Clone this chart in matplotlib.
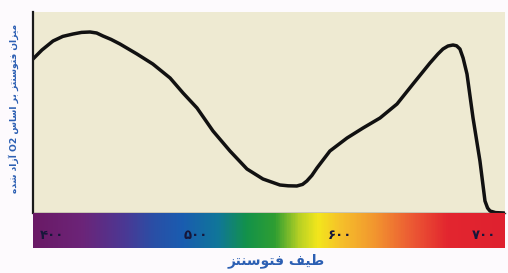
import re
import numpy as np
import matplotlib
matplotlib.use("Agg")
import matplotlib.pyplot as plt
from matplotlib.colors import LinearSegmentedColormap

# ---- data ----
wavelength = [386.8, 393.0, 400.7, 407.5, 414.6, 420.5, 426.4, 431.0, 435.4, 441.0,
              447.2, 459.0, 470.0, 482.0, 491.0, 500.7, 511.8, 523.6, 535.4, 546.5,
              558.3, 564.0, 570.0, 574.0, 577.0, 580.5, 584.0, 593.0, 604.9, 616.0,
              627.8, 639.6, 650.7, 662.5, 668.0, 671.5, 675.0, 678.5, 681.0, 683.3,
              685.5, 688.2, 692.4, 697.2, 700.7, 702.5, 704.2, 708.0, 714.0]
photosynthesis = [77.0, 81.5, 86.0, 88.3, 89.5, 90.3, 90.5, 90.0, 88.5, 86.8,
                  84.5, 79.5, 74.5, 67.5, 60.0, 52.5, 41.0, 31.0, 22.0, 17.0,
                  14.0, 13.6, 13.5, 14.3, 16.0, 18.8, 22.5, 31.0, 37.5, 42.5,
                  47.5, 54.5, 64.5, 75.0, 79.5, 82.0, 83.5, 84.0, 83.6, 82.0,
                  77.5, 69.5, 47.5, 26.0, 6.0, 2.5, 1.0, 0.2, 0.0]
tick_values = [400, 500, 600, 700]
tick_labels = ["۴۰۰", "۵۰۰", "۶۰۰", "۷۰۰"]
x_label = "طیف فتوسنتز"
y_label = "میزان فتوسنتز بر اساس O2 آزاد شده"

# spectrum strip colour stops (nm, colour)
spectrum_nm = [386.8, 420, 450, 470, 490, 515, 535, 555, 572, 585, 600, 625, 650, 675, 714.6]
spectrum_col = ["#6a1a66", "#6c2478", "#4b3894", "#2a4fa6", "#1a5cb0", "#10769a", "#13924a",
                "#2f9e32", "#b8d124", "#f3e61c", "#f6c22a", "#f2952f", "#ec5a34", "#e3262f", "#df2130"]

X_MIN, X_MAX = 386.8, 714.6

# ---- minimal Persian shaping (matplotlib has no bidi / joining) ----
FORMS = {  # isolated, final, initial, medial
    "ا": ("\uFE8D", "\uFE8E", None, None),
    "آ": ("\uFE81", "\uFE82", None, None),
    "ب": ("\uFE8F", "\uFE90", "\uFE91", "\uFE92"),
    "ت": ("\uFE95", "\uFE96", "\uFE97", "\uFE98"),
    "د": ("\uFEA9", "\uFEAA", None, None),
    "ر": ("\uFEAD", "\uFEAE", None, None),
    "ز": ("\uFEAF", "\uFEB0", None, None),
    "س": ("\uFEB1", "\uFEB2", "\uFEB3", "\uFEB4"),
    "ش": ("\uFEB5", "\uFEB6", "\uFEB7", "\uFEB8"),
    "ط": ("\uFEC1", "\uFEC2", "\uFEC3", "\uFEC4"),
    "ف": ("\uFED1", "\uFED2", "\uFED3", "\uFED4"),
    "م": ("\uFEE1", "\uFEE2", "\uFEE3", "\uFEE4"),
    "ن": ("\uFEE5", "\uFEE6", "\uFEE7", "\uFEE8"),
    "و": ("\uFEED", "\uFEEE", None, None),
    "ه": ("\uFEE9", "\uFEEA", "\uFEEB", "\uFEEC"),
    "ی": ("\uFBFC", "\uFBFD", "\uFBFE", "\uFBFF"),
}


def shape_fa(text: str) -> str:
    out = []
    for i, ch in enumerate(text):
        if ch not in FORMS:
            out.append(ch)
            continue
        prev = text[i - 1] if i > 0 else ""
        nxt = text[i + 1] if i + 1 < len(text) else ""
        j_prev = prev in FORMS and FORMS[prev][2] is not None
        j_next = FORMS[ch][2] is not None and nxt in FORMS
        iso, fin, ini, med = FORMS[ch]
        if j_prev and j_next:
            out.append(med)
        elif j_prev:
            out.append(fin)
        elif j_next:
            out.append(ini)
        else:
            out.append(iso)
    visual = "".join(out)[::-1]
    # keep latin / digit runs left-to-right
    return re.sub(r"[A-Za-z0-9]+", lambda m: m.group(0)[::-1], visual)


BLUE = "#2c5fb3"
plt.rcParams["font.family"] = ["DejaVu Sans"]

fig = plt.figure(figsize=(5.08, 2.73), dpi=100)
fig.patch.set_facecolor("#fdfafd")

ax = fig.add_axes([33 / 508, 60 / 273, 472 / 508, 201 / 273])
ax.set_facecolor("#eeead2")
ax.plot(wavelength, photosynthesis, color="#111111", linewidth=2.5,
        solid_joinstyle="round", solid_capstyle="round")
ax.set_xlim(X_MIN, X_MAX)
ax.set_ylim(0, 100.5)
ax.set_xticks(tick_values)
ax.set_xticklabels([])
ax.tick_params(axis="x", direction="out", length=2, color="#7a6a5a")
ax.set_yticks([])
for side in ("top", "right"):
    ax.spines[side].set_visible(False)
ax.spines["left"].set_color("#1a1a1a")
ax.spines["left"].set_linewidth(1.6)
ax.spines["bottom"].set_color("#3a3a3a")
ax.spines["bottom"].set_linewidth(1.0)

# spectrum strip
sax = fig.add_axes([33 / 508, 25 / 273, 472 / 508, 35 / 273])
pos = [(v - X_MIN) / (X_MAX - X_MIN) for v in spectrum_nm]
cmap = LinearSegmentedColormap.from_list("spec", list(zip(pos, spectrum_col)))
grad = np.linspace(0, 1, 600).reshape(1, -1)
sax.imshow(grad, cmap=cmap, aspect="auto", extent=[X_MIN, X_MAX, 0, 1])
sax.set_xlim(X_MIN, X_MAX)
sax.set_ylim(0, 1)
sax.axis("off")
for v, lab in zip(tick_values, tick_labels):
    sax.text(v, 0.36, lab, ha="center", va="center", fontsize=9.5,
             fontweight="bold", color="#16163a")

fig.text(276 / 508, 1 - 261 / 273, shape_fa(x_label), ha="center", va="center",
         fontsize=10, fontweight="bold", color=BLUE)
fig.text(14 / 508, 1 - 108 / 273, shape_fa(y_label), ha="center", va="center",
         rotation=90, fontsize=6.6, fontweight="bold", color=BLUE)

fig.savefig("out.png", dpi=100, facecolor=fig.get_facecolor())
